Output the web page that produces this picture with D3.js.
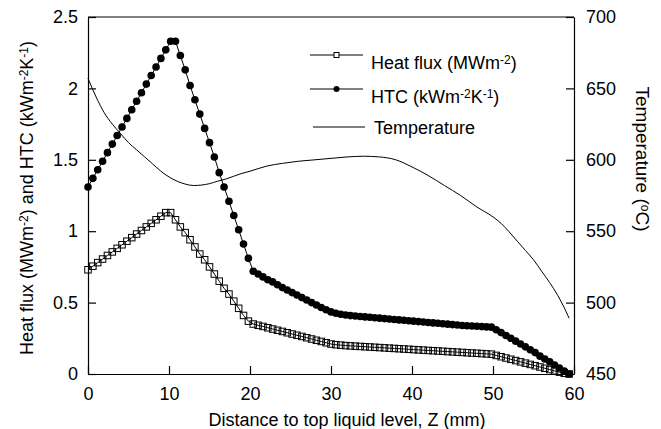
<!DOCTYPE html>
<html>
<head>
<meta charset="utf-8">
<script src="https://cdnjs.cloudflare.com/ajax/libs/d3/7.8.5/d3.min.js"></script>
<style>
    body { margin: 0; background: #fff; }
    svg text { font-family: "Liberation Sans", Arial, Helvetica, sans-serif; fill: #000; }
</style>
</head>
<body>
<div id="chart-area"></div>
<script>
// Distance to top liquid level, Z (mm) - shared by heat flux and HTC
var zPos = [
    0, 0.6, 1.2, 1.8, 2.4, 3.0, 3.6, 4.2, 4.8, 5.4,
    6.0, 6.6, 7.2, 7.8, 8.4, 9.0, 9.6, 10.2, 10.8, 11.4,
    12.0, 12.6, 13.2, 13.8, 14.4, 15.0, 15.6, 16.2, 16.8, 17.4,
    18.0, 18.6, 19.2, 19.8, 20.4, 21.0, 21.6, 22.2, 22.8, 23.4,
    24.0, 24.6, 25.2, 25.8, 26.4, 27.0, 27.6, 28.2, 28.8, 29.4,
    30.0, 30.6, 31.2, 31.8, 32.4, 33.0, 33.6, 34.2, 34.8, 35.4,
    36.0, 36.6, 37.2, 37.8, 38.4, 39.0, 39.6, 40.2, 40.8, 41.4,
    42.0, 42.6, 43.2, 43.8, 44.4, 45.0, 45.6, 46.2, 46.8, 47.4,
    48.0, 48.6, 49.2, 49.8, 50.4, 51.0, 51.6, 52.2, 52.8, 53.4,
    54.0, 54.6, 55.2, 55.8, 56.4, 57.0, 57.6, 58.2, 58.8, 59.4
];

// HTC (kW m-2 K-1)
var htc = [
    1.31, 1.37, 1.43, 1.49, 1.55, 1.61, 1.67, 1.73, 1.79, 1.85,
    1.91, 1.97, 2.03, 2.09, 2.15, 2.21, 2.27, 2.33, 2.33, 2.23,
    2.13, 2.02, 1.92, 1.82, 1.72, 1.62, 1.52, 1.41, 1.31, 1.21,
    1.11, 1.01, 0.91, 0.81, 0.72, 0.70, 0.68, 0.66, 0.645, 0.625,
    0.605, 0.588, 0.57, 0.553, 0.535, 0.518, 0.50, 0.483, 0.466, 0.45,
    0.435, 0.425, 0.418, 0.413, 0.409, 0.406, 0.403, 0.40, 0.397, 0.394,
    0.391, 0.388, 0.385, 0.382, 0.379, 0.376, 0.373, 0.37, 0.367, 0.364,
    0.361, 0.358, 0.355, 0.352, 0.349, 0.346, 0.343, 0.34, 0.338, 0.336,
    0.334, 0.332, 0.330, 0.328, 0.31, 0.29, 0.27, 0.25, 0.23, 0.21,
    0.19, 0.17, 0.15, 0.125, 0.105, 0.085, 0.063, 0.042, 0.02, 0.0
];

// Heat flux (MW m-2)
var heatFlux = [
    0.73, 0.755, 0.78, 0.805, 0.83, 0.855, 0.88, 0.905, 0.93, 0.955,
    0.98, 1.005, 1.03, 1.055, 1.08, 1.105, 1.13, 1.13, 1.08, 1.03,
    0.99, 0.94, 0.89, 0.84, 0.80, 0.75, 0.70, 0.65, 0.60, 0.56,
    0.51, 0.46, 0.41, 0.37, 0.35, 0.341, 0.333, 0.324, 0.315, 0.306,
    0.298, 0.289, 0.280, 0.271, 0.263, 0.254, 0.245, 0.236, 0.228, 0.219,
    0.21, 0.205, 0.202, 0.199, 0.197, 0.195, 0.193, 0.191, 0.189, 0.187,
    0.185, 0.183, 0.181, 0.179, 0.177, 0.175, 0.173, 0.171, 0.169, 0.167,
    0.165, 0.163, 0.161, 0.159, 0.157, 0.155, 0.153, 0.151, 0.149, 0.147,
    0.145, 0.143, 0.141, 0.139, 0.13, 0.121, 0.112, 0.103, 0.094, 0.085,
    0.076, 0.067, 0.058, 0.049, 0.04, 0.031, 0.022, 0.013, 0.005, 0.0
];

// Temperature (C), right axis
var tempZ = [0, 1, 2, 3, 4, 5, 6, 7, 8, 9, 10, 11, 12, 13, 14, 15, 16, 17, 18, 19,
    20, 22, 24, 26, 28, 30, 32, 34, 36, 38, 40, 42, 44, 46, 48,
    50, 51, 52, 53, 54, 55, 56, 57, 58, 59, 59.4];
var temperature = [657, 644, 633, 625, 618.5, 612, 607, 602, 597, 592, 588, 585, 583, 582, 582.3, 583.3, 585, 586.5, 588.5, 590.5,
    592, 595.5, 597.5, 599, 600, 601, 602, 602.5, 602, 600, 595, 589, 582, 575, 567,
    560, 555.5, 549.5, 543, 536.5, 530, 522, 514, 505, 494, 489];

// Tick labels
var xTicks = [0, 10, 20, 30, 40, 50, 60];
var leftTicks = [0, 0.5, 1, 1.5, 2, 2.5];
var rightTicks = [450, 500, 550, 600, 650, 700];

var margin = { left: 88, right: 87, top: 17, bottom: 55 };
var width = 661 - margin.left - margin.right,
    height = 429 - margin.top - margin.bottom;

var svg = d3.select("#chart-area")
    .append("svg")
        .attr("width", 661)
        .attr("height", 429);

var g = svg.append("g")
    .attr("transform", "translate(" + margin.left + ", " + margin.top + ")");

// Scales
var x = d3.scaleLinear().domain([0, 60]).range([0, width]);
var y = d3.scaleLinear().domain([0, 2.5]).range([height, 0]);
var yT = d3.scaleLinear().domain([450, 700]).range([height, 0]);

// Axes (ticks point inward)
var xAxisCall = d3.axisBottom(x)
    .tickValues(xTicks)
    .tickSizeInner(-8).tickSizeOuter(0).tickPadding(13)
    .tickFormat(function(d){ return d; });
var xAxis = g.append("g")
    .attr("transform", "translate(0," + height + ")")
    .call(xAxisCall);

var yAxisCall = d3.axisLeft(y)
    .tickValues(leftTicks)
    .tickSizeInner(-8).tickSizeOuter(0).tickPadding(10)
    .tickFormat(function(d){ return String(d); });
var yAxis = g.append("g").call(yAxisCall);

var yTAxisCall = d3.axisRight(yT)
    .tickValues(rightTicks)
    .tickSizeInner(-8).tickSizeOuter(0).tickPadding(12)
    .tickFormat(function(d){ return d; });
var yTAxis = g.append("g")
    .attr("transform", "translate(" + width + ",0)")
    .call(yTAxisCall);

[xAxis, yAxis, yTAxis].forEach(function(a){
    a.selectAll("text").attr("font-size", "18px").attr("font-family", null);
    a.selectAll("path, line").attr("stroke", "#000").attr("stroke-width", 1.2);
});

// top border
g.append("line")
    .attr("x1", 0).attr("x2", width)
    .attr("y1", 0).attr("y2", 0)
    .attr("stroke", "#000").attr("stroke-width", 1.2);

// X Label
g.append("text")
    .attr("x", 259)
    .attr("y", height + 52)
    .attr("font-size", "18px")
    .attr("text-anchor", "middle")
    .text("Distance to top liquid level, Z (mm)");

// helper for text with superscripts: parts = [[text, sup?], ...]
function richText(sel, parts) {
    parts.forEach(function(p){
        sel.append("tspan")
            .attr("font-size", p[1] ? "12px" : null)
            .attr("baseline-shift", p[1] ? "45%" : null)
            .text(p[0]);
    });
}

// Left Y Label
var yLabel = svg.append("text")
    .attr("transform", "translate(33,198) rotate(-90)")
    .attr("font-size", "18px")
    .attr("text-anchor", "middle");
richText(yLabel, [["Heat flux (MWm"], ["-2", true], [") and HTC (kWm"], ["-2", true], ["K"], ["-1", true], [")"]]);

// Right Y Label
var tLabel = svg.append("text")
    .attr("transform", "translate(636,159) rotate(90)")
    .attr("font-size", "19px")
    .attr("text-anchor", "middle");
richText(tLabel, [["Temperature ("], ["o", true], ["C)"]]);

// Lines
var lineLeft = d3.line()
    .x(function(d){ return x(d[0]); })
    .y(function(d){ return y(d[1]); });

var htcData = zPos.map(function(z, i){ return [z, htc[i]]; });
var fluxData = zPos.map(function(z, i){ return [z, heatFlux[i]]; });
var tempData = tempZ.map(function(z, i){ return [z, temperature[i]]; });

g.append("path")
    .datum(tempData)
    .attr("fill", "none")
    .attr("stroke", "#000")
    .attr("stroke-width", 1)
    .attr("d", d3.line()
        .curve(d3.curveMonotoneX)
        .x(function(d){ return x(d[0]); })
        .y(function(d){ return yT(d[1]); }));

g.append("path")
    .datum(fluxData)
    .attr("fill", "none")
    .attr("stroke", "#000")
    .attr("stroke-width", 1)
    .attr("d", lineLeft);

g.append("path")
    .datum(htcData)
    .attr("fill", "none")
    .attr("stroke", "#000")
    .attr("stroke-width", 1)
    .attr("d", lineLeft);

// Heat flux markers: open squares
var sq = 6.5;
g.selectAll("rect.flux")
    .data(fluxData)
    .enter()
    .append("rect")
        .attr("class", "flux")
        .attr("x", function(d){ return x(d[0]) - sq / 2; })
        .attr("y", function(d){ return y(d[1]) - sq / 2; })
        .attr("width", sq)
        .attr("height", sq)
        .attr("fill", "none")
        .attr("stroke", "#000")
        .attr("stroke-width", 1);

// HTC markers: filled circles
g.selectAll("circle.htc")
    .data(htcData)
    .enter()
    .append("circle")
        .attr("class", "htc")
        .attr("cx", function(d){ return x(d[0]); })
        .attr("cy", function(d){ return y(d[1]); })
        .attr("r", 3.8)
        .attr("fill", "#000");

// Legend
var legend = svg.append("g");
var legendItems = [
    { y: 55, base: 69, x1: 310, x2: 363, tx: 371, marker: "square",
      parts: [["Heat flux (MWm"], ["-2", true], [")"]] },
    { y: 89, base: 103, x1: 310, x2: 363, tx: 371, marker: "circle",
      parts: [["HTC (kWm"], ["-2", true], ["K"], ["-1", true], [")"]] },
    { y: 127, base: 134, x1: 313, x2: 365, tx: 374, marker: "none",
      parts: [["Temperature"]] }
];
legendItems.forEach(function(it){
    legend.append("line")
        .attr("x1", it.x1).attr("x2", it.x2)
        .attr("y1", it.y).attr("y2", it.y)
        .attr("stroke", "#000").attr("stroke-width", 1);
    var mx = (it.x1 + it.x2) / 2;
    if (it.marker === "square") {
        legend.append("rect")
            .attr("x", mx - 2.5).attr("y", it.y - 2.5)
            .attr("width", 5).attr("height", 5)
            .attr("fill", "#fff").attr("stroke", "#000");
    } else if (it.marker === "circle") {
        legend.append("circle")
            .attr("cx", mx).attr("cy", it.y).attr("r", 3)
            .attr("fill", "#000");
    }
    var t = legend.append("text")
        .attr("x", it.tx).attr("y", it.base)
        .attr("font-size", "18px");
    richText(t, it.parts);
});
</script>
</body>
</html>
